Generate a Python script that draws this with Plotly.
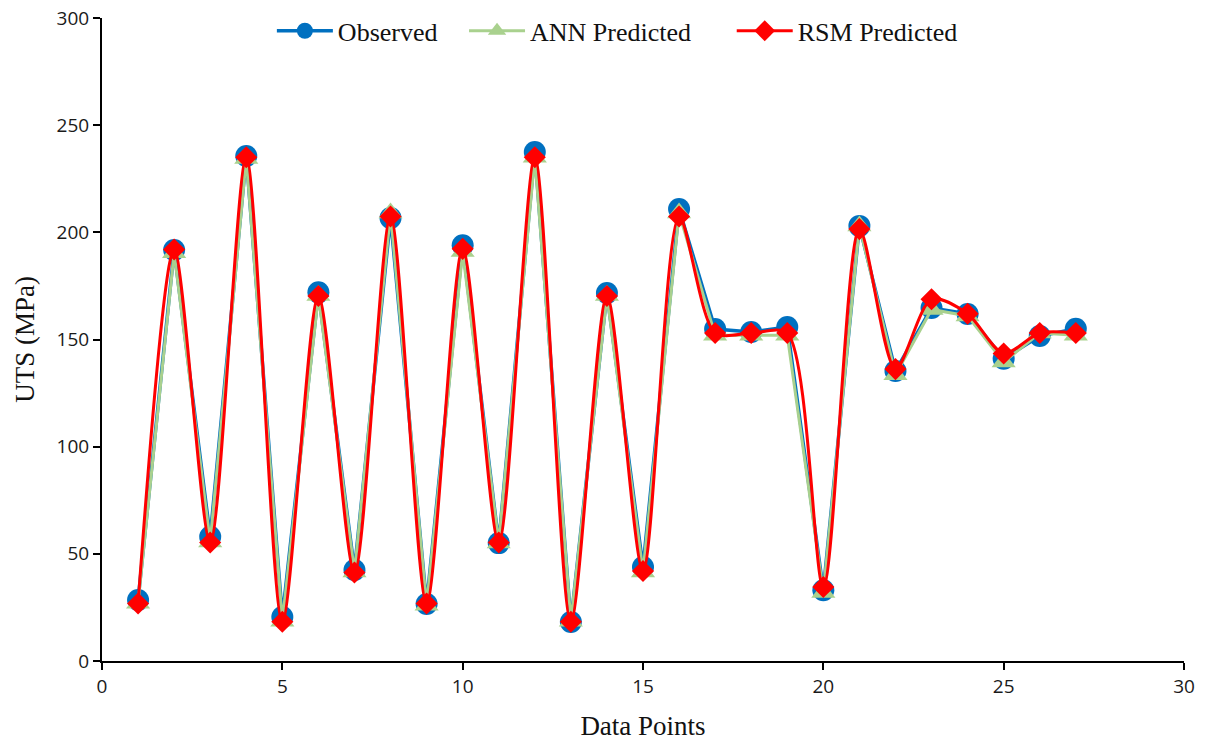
import plotly.graph_objects as go

data_points = list(range(1, 28))
observed = [28.5, 191.8, 58, 235.6, 20.5, 172, 42.5, 206.7, 26.6, 194, 55, 237.5, 18.2, 171.7, 43.9, 210.9,
            154.9, 153.5, 155.8, 33, 203, 135.3, 164.7, 161.9, 141, 151.6, 155]
ann_pred = [27, 190.5, 55.5, 234.5, 18.5, 170.5, 41.5, 209, 26, 191, 55, 235, 18.5, 170.5, 41.5, 209,
            152, 152, 152, 32, 203, 133.5, 164, 161, 139.5, 153, 152]
rsm_pred = [26.8, 192, 55.3, 235, 18.3, 170.3, 41.3, 207.4, 26.8, 192.3, 55.3, 235, 18.3, 170.3, 42, 207.4,
            153, 153, 153, 34.5, 201.5, 136.2, 168.8, 162, 143.5, 153, 153]

serif = "Liberation Serif, Times New Roman, serif"

fig = go.Figure()
fig.add_trace(go.Scatter(x=data_points, y=observed, name="Observed", mode="lines+markers",
                         line=dict(color="#0070C0", width=3.5), legend="legend", showlegend=True,
                         marker=dict(symbol="circle", size=22, color="#0070C0")))
fig.add_trace(go.Scatter(x=data_points, y=ann_pred, name="ANN Predicted", mode="lines+markers",
                         line=dict(color="#A9D18E", width=3), legend="legend2", showlegend=True,
                         marker=dict(symbol="triangle-up", size=21, color="#A9D18E")))
fig.add_trace(go.Scatter(x=data_points, y=rsm_pred, name="RSM Predicted", mode="lines+markers",
                         line=dict(color="#FF0000", width=3, shape="spline", smoothing=0.8), legend="legend3",
                         showlegend=True,
                         marker=dict(symbol="diamond", size=17, color="#FF0000")))

axis_common = dict(showgrid=False, zeroline=False, showline=True, linecolor="black", linewidth=2,
                   ticks="outside", ticklen=7, tickwidth=2, tickcolor="black",
                   tickfont=dict(family="Open Sans, Lato, sans-serif", size=19, color="#1a1a1a"))

legend_common = dict(orientation="h", y=0.98, xanchor="left", yanchor="middle",
                     font=dict(family=serif, size=26, color="#111"), itemwidth=56,
                     bgcolor="rgba(0,0,0,0)")

fig.update_layout(
    width=1215, height=742,
    showlegend=True,
    margin=dict(l=102, r=31, t=18, b=81, autoexpand=False),
    paper_bgcolor="white", plot_bgcolor="white",
    xaxis=dict(range=[0, 30], dtick=5, tick0=0,
               title=dict(text="Data Points", font=dict(family=serif, size=27, color="#111"), standoff=18),
               **axis_common),
    yaxis=dict(range=[0, 300], dtick=50, tick0=0,
               title=dict(text="UTS (MPa)", font=dict(family=serif, size=27, color="#111"), standoff=14),
               **axis_common),
    legend=dict(x=0.157, **legend_common),
    legend2=dict(x=0.3346, **legend_common),
    legend3=dict(x=0.582, **legend_common),
)

fig.write_html("out.html")
